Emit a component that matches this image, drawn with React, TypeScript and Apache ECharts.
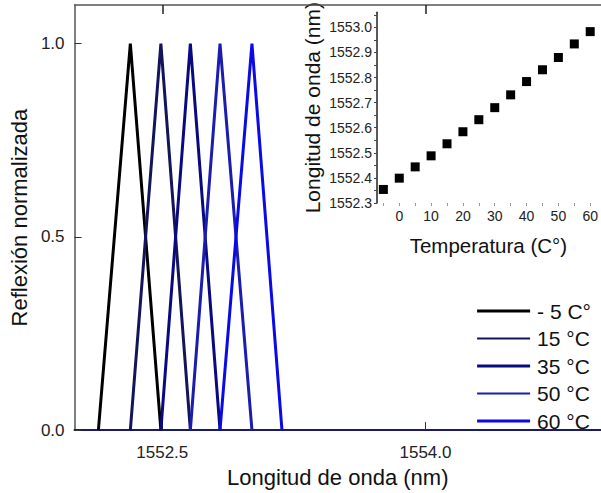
import React, { useEffect, useRef } from "react";
import * as echarts from "echarts";

// Main plot: normalized reflection spectra (triangular peaks)
const seriesNames = ["- 5 C°", "15 °C", "35 °C", "50 °C", "60 °C"];
const seriesColors = ["#000000", "#14145a", "#0a0a80", "#1c1cb0", "#0a0ae8"];
const legendWidths = [3, 2, 3, 2, 3];
const spectraStart = [1552.136, 1552.318, 1552.492, 1552.66, 1552.829];
const spectraPeak = [1552.318, 1552.492, 1552.66, 1552.829, 1553.011];
const spectraEnd = [1552.492, 1552.66, 1552.829, 1553.011, 1553.182];
const mainXTicks = [1552.5, 1554.0];
const mainYTicks = [0, 0.5, 1.0];

// Inset: peak wavelength vs temperature
const temperatures = [-5, 0, 5, 10, 15, 20, 25, 30, 35, 40, 45, 50, 55, 60];
const peakWavelengths = [
  1552.354, 1552.399, 1552.444, 1552.488, 1552.536, 1552.584, 1552.632,
  1552.68, 1552.731, 1552.784, 1552.831, 1552.88, 1552.934, 1552.983,
];
const insetXLabels = [0, 10, 20, 30, 40, 50, 60];
const insetXTicks = [-5, 0, 5, 10, 15, 20, 25, 30, 35, 40, 45, 50, 55, 60];
const insetYLabels = [1552.3, 1552.4, 1552.5, 1552.6, 1552.7, 1552.8, 1552.9, 1553.0];
const insetYTicks = [
  1552.3, 1552.35, 1552.4, 1552.45, 1552.5, 1552.55, 1552.6, 1552.65, 1552.7,
  1552.75, 1552.8, 1552.85, 1552.9, 1552.95, 1553.0, 1553.05,
];

const FONT = "Liberation Sans, Arial, sans-serif";

export default function App() {
  const ref = useRef<HTMLDivElement>(null);
  useEffect(() => {
    if (!ref.current) return;
    const chart = echarts.init(ref.current, undefined, { renderer: "svg" });
    const mainSeries = seriesNames.map((name, i) => ({
      name,
      type: "line",
      xAxisIndex: 0,
      yAxisIndex: 0,
      symbol: "none",
      data: [
        [spectraStart[i], 0],
        [spectraPeak[i], 1],
        [spectraEnd[i], 0],
      ],
      lineStyle: { color: seriesColors[i], width: 3 },
      itemStyle: { color: seriesColors[i] },
      z: 2,
    }));
    chart.setOption({
      animation: false,
      backgroundColor: "#ffffff",
      textStyle: { fontFamily: FONT },
      legend: {
        orient: "vertical",
        right: 5,
        top: 294,
        itemWidth: 53,
        itemHeight: 14,
        itemGap: 3.5,
        itemStyle: { opacity: 0 },
        textStyle: { fontSize: 21, color: "#111", lineHeight: 24, fontFamily: FONT, padding: [0, 0, 0, 2] },
        data: seriesNames.map((name, i) => ({
          name,
          lineStyle: { width: legendWidths[i], color: seriesColors[i] },
        })),
      },
      grid: [
        { left: 70, top: 5, right: -7, bottom: 55 },
        { left: 377, top: 5, right: -2, bottom: 290 },
      ],
      xAxis: [
        {
          type: "value",
          gridIndex: 0,
          min: 1552,
          max: 1555,
          position: "bottom",
          name: "Longitud de onda (nm)",
          nameLocation: "middle",
          nameGap: 34,
          nameTextStyle: { fontSize: 22, color: "#111", fontFamily: FONT },
          axisLine: { show: true, onZero: false, lineStyle: { color: "#1a1a6a", width: 2 } },
          axisTick: { show: true, inside: true, length: 8, customValues: mainXTicks, lineStyle: { color: "#333" } },
          axisLabel: {
            customValues: mainXTicks,
            formatter: (v: number) => v.toFixed(1),
            fontSize: 17,
            color: "#222",
            margin: 14,
          },
          splitLine: { show: false },
        },
        {
          type: "value",
          gridIndex: 0,
          min: 1552,
          max: 1555,
          position: "top",
          axisLine: { show: true, onZero: false, lineStyle: { color: "#555", width: 1.5 } },
          axisTick: { show: true, inside: true, length: 9, customValues: mainXTicks, lineStyle: { color: "#222", width: 1.5 } },
          axisLabel: { show: false },
          splitLine: { show: false },
        },
        {
          type: "value",
          gridIndex: 1,
          min: -7,
          max: 63,
          name: "Temperatura (C°)",
          nameLocation: "middle",
          nameGap: 32,
          nameTextStyle: { fontSize: 20.5, color: "#111", fontFamily: FONT },
          axisLine: { show: false },
          axisTick: { show: true, length: 3, customValues: insetXTicks, lineStyle: { color: "#999" } },
          axisLabel: {
            customValues: insetXLabels,
            fontSize: 14,
            color: "#222",
            margin: 6,
          },
          splitLine: { show: false },
        },
      ],
      yAxis: [
        {
          type: "value",
          gridIndex: 0,
          min: 0,
          max: 1.1,
          interval: 0.5,
          name: "Reflexión normalizada",
          nameLocation: "middle",
          nameGap: 36,
          nameTextStyle: { fontSize: 22, color: "#111", fontFamily: FONT },
          axisLine: { show: true, onZero: false, lineStyle: { color: "#555", width: 1.5 } },
          axisTick: { show: true, inside: true, length: 7, customValues: mainYTicks, lineStyle: { color: "#333" } },
          axisLabel: {
            customValues: mainYTicks,
            formatter: (v: number) => v.toFixed(1),
            fontSize: 17,
            color: "#222",
            margin: 10,
          },
          splitLine: { show: false },
        },
        {
          type: "value",
          gridIndex: 1,
          min: 1552.3,
          max: 1553.06,
          name: "Longitud de onda (nm)",
          nameLocation: "middle",
          nameGap: 54,
          nameTextStyle: { fontSize: 21, color: "#111", fontFamily: FONT },
          axisLine: { show: true, onZero: false, lineStyle: { color: "#222", width: 1.5 } },
          axisTick: { show: true, length: 3, customValues: insetYTicks, lineStyle: { color: "#444" } },
          axisLabel: {
            customValues: insetYLabels,
            formatter: (v: number) => v.toFixed(1),
            fontSize: 14,
            color: "#222",
            margin: 5,
          },
          splitLine: { show: false },
        },
      ],
      series: [
        ...mainSeries,
        {
          name: "inset",
          type: "scatter",
          xAxisIndex: 2,
          yAxisIndex: 1,
          symbol: "rect",
          symbolSize: 9,
          itemStyle: { color: "#000", opacity: 1 },
          data: temperatures.map((t, i) => [t, peakWavelengths[i]]),
          z: 5,
        },
      ],
    });
    return () => chart.dispose();
  }, []);
  return (
    <div
      ref={ref}
      style={{ position: "absolute", left: 0, top: 0, width: 601, height: 493, background: "#fff" }}
    />
  );
}
